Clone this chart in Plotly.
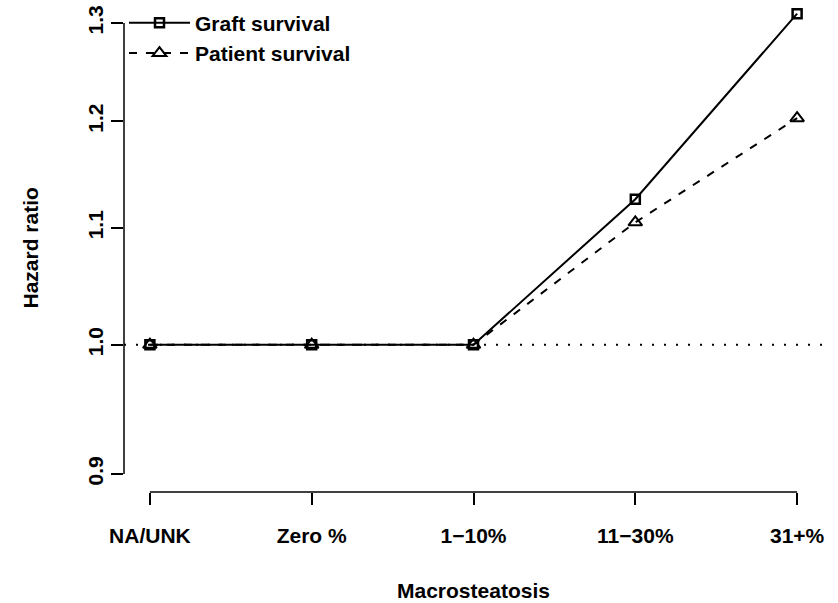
import plotly.graph_objects as go
import math

categories = ["NA/UNK", "Zero %", "1\u221210%", "11\u221230%", "31+%"]
graft = [1.0, 1.0, 1.0, 1.126, 1.31]
patient = [1.0, 1.0, 1.0, 1.105, 1.203]
y_ticks = [0.9, 1.0, 1.1, 1.2, 1.3]
y_tick_text = ["0.9", "1.0", "1.1", "1.2", "1.3"]
ref_value = 1.0

FONT = "Liberation Sans, Arial, Helvetica, sans-serif"
FS = 21
TXT = dict(family=FONT, size=FS, color="black", weight="bold")

xpos = list(range(len(categories)))

fig = go.Figure()
fig.add_trace(go.Scatter(
    x=xpos, y=graft, mode="lines+markers", name="Graft survival",
    line=dict(color="black", width=2),
    marker=dict(symbol="square-open", size=9, color="black", line=dict(width=2.5, color="black")),
    legendgroup="g1",
))
fig.add_trace(go.Scatter(
    x=xpos, y=patient, mode="lines+markers", name="Patient survival",
    line=dict(color="black", width=2, dash="8px,9px"),
    marker=dict(symbol="triangle-up-open", size=12, color="black", line=dict(width=2, color="black")),
    legendgroup="g2",
))

lo = math.log10(y_ticks[0]); hi = math.log10(y_ticks[-1])
pad = 0.04 * (hi - lo)
xr = [xpos[0] - 0.04 * (xpos[-1] - xpos[0]), xpos[-1] + 0.04 * (xpos[-1] - xpos[0])]

# reference dotted line
fig.add_shape(type="line", xref="paper", yref="y", x0=0, x1=1, y0=ref_value, y1=ref_value,
              line=dict(color="black", width=2, dash="2px,10px"))
# R-style axis lines spanning first to last tick
fig.add_shape(type="line", xref="x", yref="paper", x0=xpos[0], x1=xpos[-1], y0=0, y1=0,
              line=dict(color="black", width=1.5))
fig.add_shape(type="line", xref="paper", yref="y", x0=0, x1=0, y0=y_ticks[0], y1=y_ticks[-1],
              line=dict(color="black", width=1.5))

fig.update_xaxes(
    range=xr, tickmode="array", tickvals=xpos, ticktext=categories,
    showgrid=False, zeroline=False, showline=False,
    ticks="outside", ticklen=12, tickwidth=1.5, tickcolor="black",
    tickfont=TXT, ticklabelstandoff=13,
)
fig.update_yaxes(
    type="log", range=[lo - pad, hi + pad], tickmode="array", tickvals=y_ticks, ticktext=y_tick_text,
    showgrid=False, zeroline=False, showline=False,
    ticks="outside", ticklen=12, tickwidth=1.5, tickcolor="black", tickangle=-90,
    tickfont=TXT, ticklabelstandoff=0,
)

fig.add_annotation(text="Macrosteatosis", xref="paper", yref="paper", x=0.5, y=0,
                   xanchor="center", yanchor="middle", yshift=-98, showarrow=False,
                   font=TXT)
fig.add_annotation(text="Hazard ratio", xref="paper", yref="paper", x=0, y=0.5,
                   xanchor="center", yanchor="middle", xshift=-94, textangle=-90, showarrow=False,
                   font=TXT)

fig.update_layout(
    width=838, height=603,
    margin=dict(l=124, r=15, t=3, b=111),
    paper_bgcolor="white", plot_bgcolor="white",
    showlegend=True,
    legend=dict(x=0.0, y=1.005, xanchor="left", yanchor="top", bgcolor="rgba(0,0,0,0)",
                font=TXT, traceorder="grouped",
                tracegroupgap=0, itemwidth=61),
)

fig.write_html("out.html")
